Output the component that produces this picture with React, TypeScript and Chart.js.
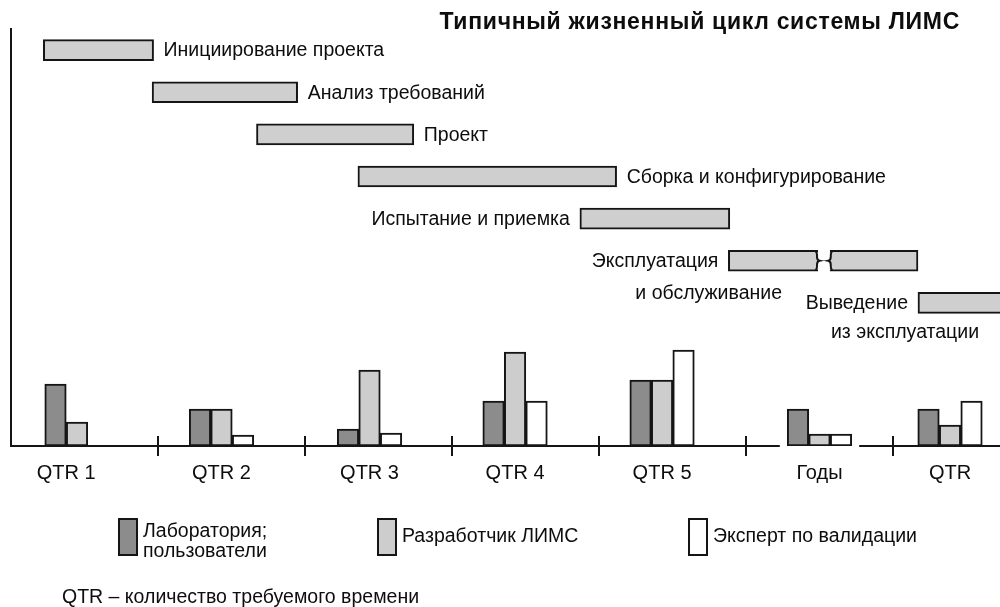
import React, { useEffect, useRef } from 'react';
import { Chart, registerables } from 'chart.js';

Chart.register(...registerables);

const FONT = '"Liberation Sans", Arial, Helvetica, sans-serif';

// ---------- Data: life-cycle phases (time in quarters) ----------
const phaseNames = [
  'Инициирование проекта',
  'Анализ требований',
  'Проект',
  'Сборка и конфигурирование',
  'Испытание и приемка',
  'Эксплуатация и обслуживание',
  'Выведение из эксплуатации',
];
const phaseLabelLines = [
  ['Инициирование проекта'],
  ['Анализ требований'],
  ['Проект'],
  ['Сборка и конфигурирование'],
  ['Испытание и приемка'],
  ['Эксплуатация', 'и обслуживание'],
  ['Выведение', 'из эксплуатации'],
];
const phaseStart = [0.22, 0.96, 1.67, 2.36, 3.87, 4.88, 6.17];
const phaseEnd = [0.97, 1.95, 2.74, 4.12, 4.89, 5.49, 6.9];
// continuation after the time-axis break (operation phase only)
const phaseResumeStart = [null, null, null, null, null, 5.57, null];
const phaseResumeEnd = [null, null, null, null, null, 6.17, null];

// ---------- Data: required effort per participant ----------
const groupLabels = ['QTR 1', 'QTR 2', 'QTR 3', 'QTR 4', 'QTR 5', 'Годы', 'QTR'];
const groupPosition = [0.449, 1.432, 2.439, 3.429, 4.429, 5.5, 6.388];
const labUsers = [6.2, 3.7, 1.7, 4.5, 6.6, 3.7, 3.7];
const limsDeveloper = [2.4, 3.7, 7.6, 9.4, 6.6, 1.2, 2.1];
const validationExpert = [null, 1.1, 1.3, 4.5, 9.6, 1.2, 4.5];
const seriesNames = ['Лаборатория;\nпользователи', 'Разработчик ЛИМС', 'Эксперт по валидации'];
const quarterTicks = [1, 2, 3, 4, 5, 6];
const axisSegments = [
  [0, 5.23],
  [5.77, 6.73],
];

// ---------- Styles ----------
const X_MAX = 6.728;
const Y_MAX = 41.8;
const EDGE = '#151515';
const TEXT = '#0d0d0d';
const PHASE_FILL = '#cfcfcf';
const seriesColors = ['#8c8c8c', '#cdcdcd', '#ffffff'];
const phaseLabelStyle: any[] = [
  { side: 'right' },
  { side: 'right' },
  { side: 'right' },
  { side: 'right' },
  { side: 'left' },
  { side: 'left', dx2: -93, dy2: 33 },
  { side: 'left', dx2: -87, dy2: 30 },
];
const legendLeft = [118, 377, 688];

function drawBrace(ctx: CanvasRenderingContext2D, x: number, top: number, bottom: number, dir: number) {
  const mid = (top + bottom) / 2;
  ctx.beginPath();
  ctx.moveTo(x - dir * 1.5, top);
  ctx.quadraticCurveTo(x, top + 1, x, top + 4);
  ctx.lineTo(x, mid - 4);
  ctx.quadraticCurveTo(x, mid - 0.5, x + dir * 2.5, mid);
  ctx.quadraticCurveTo(x, mid + 0.5, x, mid + 4);
  ctx.lineTo(x, bottom - 4);
  ctx.quadraticCurveTo(x, bottom - 1, x - dir * 1.5, bottom);
  ctx.stroke();
}

const ganttPlugin = {
  id: 'ganttLabels',
  afterDatasetsDraw(chart: any) {
    const ctx = chart.ctx as CanvasRenderingContext2D;
    const meta0 = chart.getDatasetMeta(0);
    const meta1 = chart.getDatasetMeta(1);
    ctx.save();
    ctx.font = `19.5px ${FONT}`;
    ctx.fillStyle = TEXT;
    ctx.textBaseline = 'middle';
    ctx.strokeStyle = EDGE;
    ctx.lineWidth = 2;
    meta0.data.forEach((bar: any, i: number) => {
      const p = bar.getProps(['x', 'base', 'y', 'height'], true);
      const left = Math.min(p.x, p.base);
      const right = Math.max(p.x, p.base);
      const st = phaseLabelStyle[i];
      const lines = phaseLabelLines[i];
      if (st.side === 'right') {
        ctx.textAlign = 'left';
        ctx.fillText(lines[0], right + 10, p.y + 1);
      } else {
        ctx.textAlign = 'right';
        ctx.fillText(lines[0], left - 10, p.y + 1);
      }
      if (lines[1]) {
        ctx.textAlign = 'left';
        ctx.fillText(lines[1], left + st.dx2, p.y + st.dy2);
      }
      if (phaseResumeStart[i] != null) {
        const top = p.y - p.height / 2 + 1;
        const bottom = p.y + p.height / 2 - 1;
        drawBrace(ctx, right - 1, top, bottom, 1);
        const b2 = meta1.data[i].getProps(['x', 'base'], true);
        drawBrace(ctx, Math.min(b2.x, b2.base) + 1, top, bottom, -1);
      }
    });
    ctx.restore();
  },
};

const axisPlugin = {
  id: 'effortAxis',
  afterDatasetsDraw(chart: any) {
    const ctx = chart.ctx as CanvasRenderingContext2D;
    const xs = chart.scales.x;
    const ys = chart.scales.y;
    const y0 = ys.getPixelForValue(0);
    ctx.save();
    ctx.strokeStyle = EDGE;
    ctx.lineWidth = 2;
    ctx.lineCap = 'butt';
    // vertical axis
    ctx.beginPath();
    ctx.moveTo(xs.getPixelForValue(0), chart.chartArea.top);
    ctx.lineTo(xs.getPixelForValue(0), y0 + 1);
    ctx.stroke();
    // broken time axis
    axisSegments.forEach(([a, b]) => {
      ctx.beginPath();
      ctx.moveTo(xs.getPixelForValue(a), y0);
      ctx.lineTo(xs.getPixelForValue(b), y0);
      ctx.stroke();
    });
    quarterTicks.forEach((q) => {
      const x = xs.getPixelForValue(q);
      ctx.beginPath();
      ctx.moveTo(x, y0 - 10);
      ctx.lineTo(x, y0 + 10);
      ctx.stroke();
    });
    // group labels centred under the bars that are present
    ctx.font = `20px ${FONT}`;
    ctx.fillStyle = TEXT;
    ctx.textAlign = 'center';
    ctx.textBaseline = 'middle';
    groupLabels.forEach((label, i) => {
      let lo = Infinity;
      let hi = -Infinity;
      chart.data.datasets.forEach((ds: any, d: number) => {
        if (ds.data[i].y == null) return;
        const el = chart.getDatasetMeta(d).data[i];
        const p = el.getProps(['x', 'width'], true);
        lo = Math.min(lo, p.x - p.width / 2);
        hi = Math.max(hi, p.x + p.width / 2);
      });
      ctx.fillText(label, (lo + hi) / 2, y0 + 27);
    });
    ctx.restore();
  },
};

export default function App() {
  const ganttRef = useRef<HTMLCanvasElement>(null);
  const barRef = useRef<HTMLCanvasElement>(null);

  useEffect(() => {
    const gantt = new Chart(ganttRef.current as HTMLCanvasElement, {
      type: 'bar',
      data: {
        labels: phaseNames,
        datasets: [
          {
            data: phaseStart.map((s, i) => [s, phaseEnd[i]]) as any,
            backgroundColor: PHASE_FILL,
            borderColor: EDGE,
            borderWidth: 2,
            borderSkipped: ((c: any) =>
              phaseResumeStart[c.dataIndex] != null || phaseEnd[c.dataIndex] > X_MAX ? 'right' : false) as any,
            barThickness: 21,
            grouped: false,
          },
          {
            data: phaseResumeStart.map((s, i) => (s == null ? null : [s, phaseResumeEnd[i] as number])) as any,
            backgroundColor: PHASE_FILL,
            borderColor: EDGE,
            borderWidth: 2,
            borderSkipped: 'left',
            barThickness: 21,
            grouped: false,
          },
        ],
      },
      options: {
        indexAxis: 'y',
        responsive: false,
        animation: false,
        events: [],
        layout: { padding: { left: 11, right: 0, top: 29, bottom: 283 } },
        scales: {
          x: { type: 'linear', min: 0, max: X_MAX, display: false },
          y: { type: 'category', display: false },
        },
        plugins: { legend: { display: false }, tooltip: { enabled: false }, title: { display: false } },
      },
      plugins: [ganttPlugin],
    });

    const seriesValues = [labUsers, limsDeveloper, validationExpert];
    const bars = new Chart(barRef.current as HTMLCanvasElement, {
      type: 'bar',
      data: {
        datasets: seriesValues.map((vals, d) => ({
          label: seriesNames[d],
          data: vals.map((v, i) => ({ x: groupPosition[i], y: v })) as any,
          backgroundColor: seriesColors[d],
          borderColor: EDGE,
          borderWidth: 2,
          borderSkipped: false,
          barThickness: 21.5,
        })),
      },
      options: {
        responsive: false,
        animation: false,
        events: [],
        layout: { padding: { left: 11, right: 0, top: 28, bottom: 161 } },
        scales: {
          x: { type: 'linear', min: 0, max: X_MAX, offset: false, display: false },
          y: { type: 'linear', min: 0, max: Y_MAX, display: false },
        },
        plugins: { legend: { display: false }, tooltip: { enabled: false } },
      },
      plugins: [axisPlugin],
    });

    return () => {
      gantt.destroy();
      bars.destroy();
    };
  }, []);

  return (
    <div
      style={{
        position: 'absolute',
        left: 0,
        top: 0,
        width: 1000,
        height: 607,
        background: '#fff',
        overflow: 'hidden',
        fontFamily: FONT,
        color: TEXT,
      }}
    >
      <canvas ref={barRef} width={1000} height={607} style={{ position: 'absolute', left: 0, top: 0 }} />
      <canvas ref={ganttRef} width={1000} height={607} style={{ position: 'absolute', left: 0, top: 0 }} />
      <div
        style={{
          position: 'absolute',
          right: 40,
          top: 9,
          fontSize: 23,
          lineHeight: '24px',
          fontWeight: 'bold',
          letterSpacing: 0.7,
          whiteSpace: 'nowrap',
        }}
      >
        Типичный жизненный цикл системы ЛИМС
      </div>
      {seriesNames.map((name, d) => {
        const lines = name.split('\n');
        return (
          <div
            key={d}
            style={{ position: 'absolute', left: legendLeft[d], top: 518, display: 'flex', alignItems: 'flex-start' }}
          >
            <div
              style={{
                width: 20,
                height: 38,
                boxSizing: 'border-box',
                border: `2px solid ${EDGE}`,
                background: seriesColors[d],
                flex: 'none',
              }}
            />
            <div
              style={{
                marginLeft: 5,
                marginTop: lines.length > 1 ? 2 : 7,
                fontSize: 19.5,
                lineHeight: '20px',
                whiteSpace: 'nowrap',
              }}
            >
              {lines.map((l, k) => (
                <div key={k}>{l}</div>
              ))}
            </div>
          </div>
        );
      })}
      <div style={{ position: 'absolute', left: 62, top: 586, fontSize: 19.5, lineHeight: '20px', whiteSpace: 'nowrap' }}>
        QTR – количество требуемого времени
      </div>
    </div>
  );
}
